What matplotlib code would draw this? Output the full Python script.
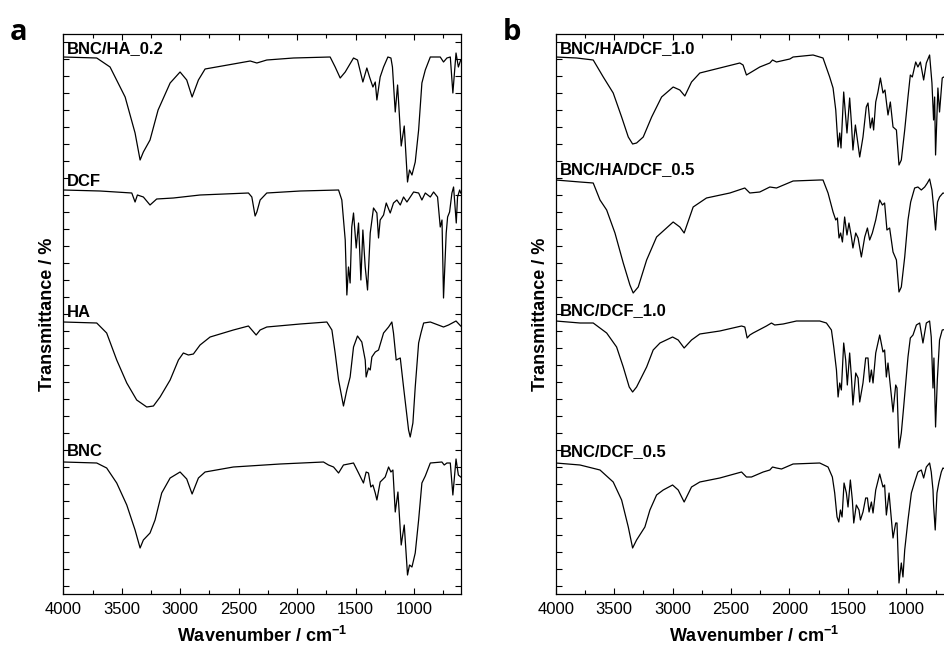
import numpy as np
import matplotlib
matplotlib.use("Agg")
import matplotlib.pyplot as plt
from matplotlib.ticker import MultipleLocator, FixedLocator

plt.rcParams["font.family"] = "Liberation Sans"
plt.rcParams["mathtext.fontset"] = "custom"
plt.rcParams["mathtext.rm"] = "Liberation Sans:bold"
plt.rcParams["mathtext.it"] = "Liberation Sans:bold"
plt.rcParams["mathtext.bf"] = "Liberation Sans:bold"

# FTIR spectra: (wavenumber cm-1, transmittance, arbitrary offset units)
bnc_ha_02 = [(4000, 537), (3714, 536), (3600, 527), (3471, 497), (3386, 461), (3343, 434), (3315, 442),
             (3258, 454), (3189, 484), (3086, 511), (3001, 522), (2944, 514), (2898, 497), (2844, 514),
             (2787, 525), (2545, 530), (2401, 533), (2344, 531), (2259, 534), (2031, 536), (1717, 537),
             (1674, 527), (1631, 516), (1588, 522), (1517, 536), (1483, 534), (1437, 512), (1403, 526),
             (1380, 517), (1351, 507), (1331, 512), (1317, 494), (1289, 517), (1260, 527), (1223, 537),
             (1197, 536), (1184, 527), (1160, 482), (1140, 509), (1109, 448), (1083, 468), (1055, 412),
             (1038, 424), (1017, 419), (989, 432), (960, 464), (932, 511), (903, 524), (860, 537),
             (775, 537), (747, 532), (718, 536), (689, 537), (667, 501), (640, 541), (620, 527), (600, 534)]

dcf = [(4000, 404), (3686, 403), (3414, 401), (3386, 392), (3366, 399), (3315, 397), (3258, 389),
       (3201, 395), (3058, 396), (2830, 399), (2416, 401), (2387, 397), (2359, 378), (2344, 382),
       (2316, 394), (2259, 401), (1973, 403), (1645, 404), (1617, 394), (1588, 354), (1574, 299),
       (1560, 327), (1546, 311), (1532, 367), (1517, 381), (1494, 346), (1474, 371), (1454, 314),
       (1437, 364), (1417, 327), (1397, 304), (1374, 361), (1346, 386), (1317, 381), (1303, 356),
       (1289, 374), (1260, 379), (1237, 391), (1203, 381), (1175, 391), (1146, 394), (1117, 389),
       (1089, 397), (1060, 392), (1003, 402), (960, 401), (932, 394), (903, 401), (860, 397),
       (832, 402), (798, 397), (775, 367), (760, 374), (747, 296), (724, 361), (712, 377),
       (695, 382), (675, 401), (661, 407), (638, 371), (627, 397), (609, 404), (600, 401)]

ha = [(4000, 272), (3714, 271), (3629, 261), (3543, 234), (3457, 211), (3372, 194), (3286, 187),
      (3229, 188), (3172, 197), (3086, 214), (3015, 234), (2973, 241), (2930, 239), (2887, 240),
      (2830, 249), (2744, 257), (2545, 264), (2416, 268), (2350, 259), (2316, 264), (2259, 267),
      (1973, 270), (1745, 272), (1702, 264), (1674, 241), (1645, 214), (1603, 188), (1574, 204),
      (1546, 217), (1517, 247), (1483, 258), (1446, 252), (1417, 234), (1409, 217), (1389, 226),
      (1374, 224), (1360, 237), (1331, 242), (1303, 244), (1260, 261), (1217, 267), (1189, 272),
      (1175, 261), (1152, 234), (1117, 236), (1089, 207), (1066, 184), (1046, 164), (1032, 157),
      (1009, 171), (989, 207), (960, 251), (940, 261), (917, 271), (860, 272), (747, 267),
      (704, 269), (640, 273), (600, 268)]

bnc = [(4000, 132), (3714, 131), (3629, 126), (3543, 111), (3457, 89), (3386, 64), (3343, 46),
       (3315, 54), (3258, 61), (3215, 74), (3158, 101), (3086, 116), (3001, 122), (2944, 115),
       (2898, 100), (2844, 116), (2787, 122), (2545, 127), (2145, 130), (1774, 132), (1731, 129),
       (1688, 127), (1645, 121), (1603, 129), (1517, 131), (1474, 121), (1432, 111), (1409, 122),
       (1389, 121), (1369, 107), (1351, 109), (1331, 101), (1317, 94), (1289, 112), (1246, 117),
       (1217, 127), (1197, 122), (1180, 124), (1160, 82), (1137, 102), (1109, 49), (1083, 69),
       (1055, 19), (1038, 29), (1017, 27), (989, 41), (960, 74), (932, 111), (903, 118),
       (860, 131), (761, 132), (741, 129), (718, 131), (689, 131), (667, 99), (640, 135),
       (620, 119), (600, 117)]

bnc_ha_dcf_10 = [(4000, 537), (3821, 536), (3679, 534), (3593, 517), (3508, 501), (3436, 477), (3379, 457),
                 (3342, 450), (3308, 451), (3251, 457), (3179, 477), (3094, 497), (2995, 507), (2938, 504),
                 (2895, 498), (2838, 512), (2767, 521), (2596, 526), (2425, 531), (2397, 529), (2368, 519),
                 (2325, 522), (2254, 527), (2168, 531), (2145, 534), (2111, 532), (1997, 535), (1969, 537),
                 (1798, 539), (1713, 536), (1656, 517), (1627, 506), (1604, 484), (1584, 447), (1570, 461),
                 (1559, 446), (1536, 502), (1519, 477), (1508, 461), (1485, 496), (1470, 471), (1457, 444),
                 (1436, 469), (1399, 437), (1371, 457), (1343, 487), (1328, 491), (1308, 466), (1291, 476),
                 (1280, 464), (1262, 492), (1243, 502), (1222, 516), (1200, 501), (1183, 504), (1157, 479),
                 (1137, 492), (1114, 467), (1085, 464), (1063, 429), (1043, 434), (1014, 464), (986, 497),
                 (966, 519), (949, 517), (920, 532), (901, 527), (880, 532), (852, 514), (829, 531),
                 (801, 539), (781, 511), (767, 474), (758, 497), (750, 439), (730, 506), (716, 482),
                 (693, 516), (682, 517), (650, 515), (600, 515)]

bnc_ha_dcf_05 = [(4000, 414), (3792, 412), (3679, 411), (3621, 394), (3564, 384), (3493, 361), (3422, 331),
                 (3365, 309), (3337, 301), (3294, 307), (3222, 334), (3137, 357), (2995, 372), (2938, 367),
                 (2901, 361), (2824, 387), (2710, 396), (2510, 401), (2382, 406), (2339, 401), (2254, 402),
                 (2168, 407), (2111, 406), (1969, 413), (1741, 414), (1713, 414), (1670, 401), (1627, 382),
                 (1604, 374), (1590, 376), (1576, 356), (1562, 361), (1547, 352), (1528, 377), (1508, 359),
                 (1491, 371), (1470, 357), (1457, 346), (1433, 361), (1413, 356), (1385, 337), (1356, 357),
                 (1333, 366), (1314, 354), (1291, 361), (1262, 374), (1228, 394), (1205, 389), (1186, 391),
                 (1166, 364), (1143, 366), (1114, 342), (1085, 334), (1063, 302), (1043, 307), (1014, 337),
                 (986, 374), (963, 392), (929, 406), (901, 407), (872, 404), (843, 407), (820, 411),
                 (801, 415), (781, 404), (767, 387), (750, 364), (733, 392), (716, 397), (687, 401),
                 (650, 400), (600, 400)]

bnc_dcf_10 = [(4000, 273), (3792, 271), (3679, 271), (3564, 261), (3479, 247), (3422, 227), (3371, 207),
              (3342, 202), (3308, 207), (3222, 227), (3166, 244), (3108, 251), (3000, 257), (2952, 254),
              (2901, 246), (2838, 254), (2767, 260), (2596, 263), (2410, 268), (2382, 267), (2362, 256),
              (2339, 259), (2311, 261), (2197, 268), (2154, 271), (2126, 269), (2054, 270), (1940, 273),
              (1741, 273), (1684, 271), (1641, 264), (1621, 247), (1598, 224), (1584, 197), (1570, 211),
              (1556, 204), (1536, 251), (1519, 234), (1505, 209), (1485, 241), (1470, 217), (1457, 189),
              (1433, 221), (1413, 216), (1399, 192), (1371, 211), (1348, 236), (1328, 236), (1314, 212),
              (1299, 224), (1285, 211), (1262, 241), (1228, 259), (1200, 242), (1186, 244), (1171, 217),
              (1157, 231), (1114, 182), (1091, 209), (1080, 206), (1063, 146), (1043, 161), (1023, 187),
              (986, 237), (966, 256), (943, 259), (914, 269), (886, 271), (858, 251), (829, 271),
              (801, 273), (787, 257), (772, 206), (764, 236), (750, 167), (735, 214), (716, 254),
              (693, 264), (650, 265), (600, 265)]

bnc_dcf_05 = [(4000, 131), (3792, 129), (3621, 124), (3508, 112), (3436, 94), (3379, 67), (3342, 46),
              (3308, 54), (3237, 67), (3194, 84), (3137, 99), (3080, 104), (3000, 109), (2952, 104),
              (2901, 92), (2838, 107), (2767, 112), (2596, 116), (2410, 122), (2368, 117), (2325, 117),
              (2225, 122), (2168, 124), (2145, 127), (2111, 126), (2068, 125), (1969, 130), (1741, 131),
              (1670, 127), (1633, 117), (1613, 101), (1593, 77), (1578, 72), (1564, 84), (1550, 77),
              (1533, 111), (1513, 101), (1499, 87), (1479, 114), (1462, 94), (1450, 71), (1428, 89),
              (1405, 84), (1393, 74), (1371, 82), (1348, 96), (1333, 96), (1319, 82), (1299, 92),
              (1285, 81), (1262, 104), (1228, 120), (1200, 107), (1186, 109), (1171, 79), (1148, 101),
              (1114, 56), (1091, 71), (1080, 71), (1063, 11), (1043, 31), (1029, 17), (1014, 44),
              (986, 74), (957, 101), (929, 112), (901, 122), (872, 124), (852, 116), (829, 127),
              (801, 131), (787, 122), (772, 104), (767, 89), (753, 64), (738, 101), (721, 112),
              (701, 122), (687, 126), (650, 124), (600, 119)]

names_a = ["BNC/HA_0.2", "DCF", "HA", "BNC"]
names_b = ["BNC/HA/DCF_1.0", "BNC/HA/DCF_0.5", "BNC/DCF_1.0", "BNC/DCF_0.5"]
spectra_a = [bnc_ha_02, dcf, ha, bnc]
spectra_b = [bnc_ha_dcf_10, bnc_ha_dcf_05, bnc_dcf_10, bnc_dcf_05]
label_y_a = [541, 408, 277, 138]
label_y_b = [541, 420, 279, 138]


def draw_panel(ax, spectra, names, label_y):
    for spec, name, ly in zip(spectra, names, label_y):
        wn, t = np.array(spec, dtype=float).T
        ax.plot(wn, t, color="black", lw=0.9)
        ax.text(3966, ly, name, fontsize=12, fontweight="bold", va="baseline", ha="left")

    ax.set_xlim(4000, 600)
    ax.set_ylim(0, 560)
    ax.xaxis.set_major_locator(MultipleLocator(500))
    ax.xaxis.set_minor_locator(MultipleLocator(250))
    ax.yaxis.set_major_locator(FixedLocator(np.arange(8, 560, 17)))
    ax.tick_params(which="both", direction="in", top=True, right=True, width=0.8,
                   labelleft=False, labelsize=12, pad=6)
    ax.tick_params(which="major", length=4)
    ax.tick_params(which="minor", length=3)
    for s in ax.spines.values():
        s.set_linewidth(0.9)
    ax.set_xlabel(r"Wavenumber / cm$^{-1}$", fontsize=13, fontweight="bold", labelpad=6)
    ax.set_ylabel("Transmittance / %", fontsize=13, fontweight="bold", labelpad=5)


fig = plt.figure(figsize=(9.44, 6.48), dpi=100)
ax_a = fig.add_axes([63.3 / 944, 54 / 648, 397.4 / 944, 560 / 648])
ax_b = fig.add_axes([555.7 / 944, 54 / 648, 397.4 / 944, 560 / 648])

draw_panel(ax_a, spectra_a, names_a, label_y_a)
draw_panel(ax_b, spectra_b, names_b, label_y_b)

fig.text(10 / 944, 1 - 40 / 648, "a", fontsize=21, fontweight="bold", family="Open Sans", va="baseline")
fig.text(503 / 944, 1 - 40 / 648, "b", fontsize=21, fontweight="bold", family="Open Sans", va="baseline")

fig.savefig("out.png", dpi=100)
